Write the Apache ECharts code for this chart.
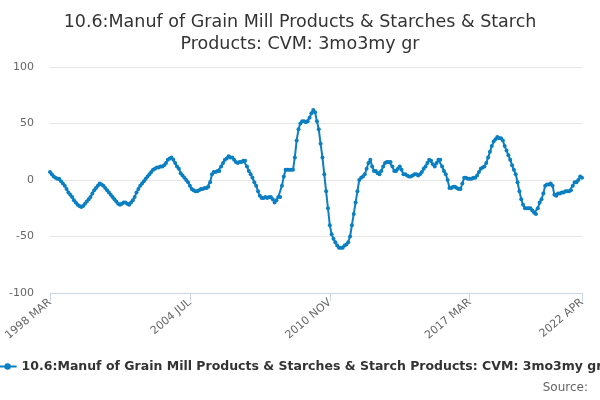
<!DOCTYPE html>
<html>
<head>
<meta charset="utf-8">
<script src="https://cdn.jsdelivr.net/npm/echarts@6/dist/echarts.min.js"></script>
<style>body{margin:0}#chart{width:600px;height:400px}</style>
</head>
<body>
<div id="chart"></div>
<script>
let seriesName = '10.6:Manuf of Grain Mill Products & Starches & Starch Products: CVM: 3mo3my gr';
let monthNames = ['JAN','FEB','MAR','APR','MAY','JUN','JUL','AUG','SEP','OCT','NOV','DEC'];
let values = [
  7,5,3,2,1,1,-1,-3,-5,-8,
  -11,-13,-15,-18,-20,-22,-23,-24,-23,-21,
  -19,-17,-15,-12,-9,-7,-5,-3,-4,-5,
  -7,-9,-11,-13,-15,-17,-19,-21,-22,-21,
  -20,-20,-21,-22,-20,-18,-15,-11,-8,-5,
  -3,-1,1,3,5,7,9,10,11,11,
  12,12,13,15,18,19,20,18,15,12,
  10,6,4,2,0,-2,-5,-8,-9,-10,
  -10,-9,-8,-8,-7,-7,-6,-2,5,7,
  7,8,8,12,15,18,19,21,20,20,
  18,16,15,16,16,17,17,12,8,5,
  2,-2,-5,-10,-14,-16,-16,-15,-16,-15,
  -15,-17,-20,-18,-15,-15,-5,3,9,9,
  9,9,9,20,35,45,50,52,52,51,
  52,55,59,62,60,52,45,32,20,5,
  -10,-25,-40,-48,-52,-55,-58,-60,-60,-60,
  -58,-57,-55,-50,-40,-30,-20,-10,0,2,
  3,5,10,15,18,12,8,8,6,5,
  8,12,15,16,16,16,12,8,8,10,
  12,9,5,5,4,3,3,4,5,5,
  4,5,7,10,12,15,18,17,14,12,
  15,18,18,12,8,5,0,-7,-7,-6,
  -6,-7,-8,-8,-3,2,2,1,1,1,
  2,2,4,7,10,11,12,15,20,25,
  30,34,36,38,37,37,35,30,26,22,
  18,13,9,5,-2,-10,-17,-22,-25,-25,
  -25,-25,-27,-29,-30,-25,-20,-17,-12,-5,
  -4,-4,-3,-5,-13,-14,-12,-12,-11,-11,
  -10,-10,-10,-9,-5,-2,-2,0,3,2
];
// months from 1998 MAR onward
let categories = values.map(function (v, i) {
  let m = 2 + i;
  return (1998 + Math.floor(m / 12)) + ' ' + monthNames[m % 12];
});
let last = categories.length - 1;
function showTick(i) { return i % 76 === 0 || i === last; }

let chart = echarts.init(document.getElementById('chart'));
chart.setOption({
  animation: false,
  title: {
    text: '10.6:Manuf of Grain Mill Products & Starches & Starch\nProducts: CVM: 3mo3my gr',
    left: 'center', top: 6,
    textStyle: { fontFamily: 'DejaVu Sans', fontSize: 17.5, fontWeight: 'normal', color: '#333', lineHeight: 22 }
  },
  legend: {
    bottom: 22, left: 'center', itemWidth: 18, itemHeight: 8, itemGap: 4,
    textStyle: { fontFamily: 'DejaVu Sans', fontSize: 12.5, fontWeight: 'bold', color: '#333' },
    data: [seriesName]
  },
  graphic: [{
    type: 'text', right: 12, bottom: 6,
    style: { text: 'Source:', fontFamily: 'DejaVu Sans', fontSize: 12, fill: '#666' }
  }],
  grid: { left: 50, right: 18, top: 67, bottom: 107 },
  xAxis: {
    type: 'category', data: categories, boundaryGap: false,
    axisLine: { onZero: false, lineStyle: { color: '#ccd6eb' } },
    axisTick: { interval: showTick, length: 8, lineStyle: { color: '#ccd6eb' } },
    axisLabel: { interval: showTick, rotate: 40, color: '#666', fontFamily: 'DejaVu Sans', fontSize: 11 }
  },
  yAxis: {
    type: 'value', min: -100, max: 100, interval: 50,
    axisLine: { show: false }, axisTick: { show: false },
    splitLine: { lineStyle: { color: '#e6e6e6' } },
    axisLabel: { color: '#666', fontFamily: 'DejaVu Sans', fontSize: 11, margin: 16 }
  },
  series: [{
    name: seriesName, type: 'line', data: values,
    symbol: 'circle', symbolSize: 4, showAllSymbol: true,
    itemStyle: { color: '#0a7fc2' },
    lineStyle: { color: '#0a7fc2', width: 2 }
  }]
});
</script>
</body>
</html>
